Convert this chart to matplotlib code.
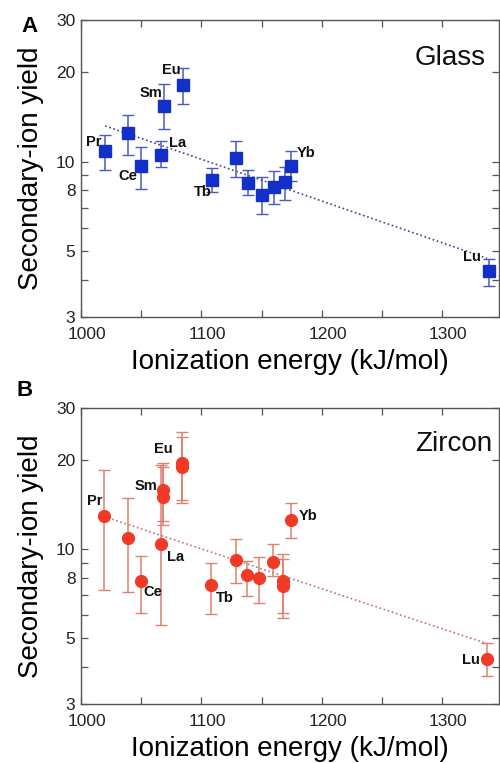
import matplotlib
matplotlib.use("Agg")
import matplotlib.pyplot as plt
import numpy as np
from matplotlib.ticker import FixedLocator, FixedFormatter
from matplotlib.transforms import ScaledTranslation

plt.rcParams['font.family'] = ['Liberation Sans', 'DejaVu Sans']

# ---------------- data ----------------
# Panel A: Glass
glass_ie = [1020, 1039, 1050, 1066, 1069, 1085, 1109, 1129, 1139, 1150, 1160, 1169, 1174, 1339]
glass_yield = [10.9, 12.5, 9.7, 10.5, 15.4, 18.1, 8.7, 10.3, 8.5, 7.75, 8.2, 8.55, 9.7, 4.3]
glass_err_hi = [12.3, 14.4, 11.2, 11.7, 18.3, 20.7, 9.5, 11.7, 9.4, 8.9, 9.3, 9.6, 10.9, 4.7]
glass_err_lo = [9.4, 10.5, 8.1, 9.6, 12.9, 15.6, 7.9, 8.9, 7.7, 6.65, 7.2, 7.45, 8.6, 3.82]
glass_labels = ["Pr", "", "Ce", "La", "Sm", "Eu", "Tb", "", "", "", "", "", "Yb", "Lu"]
glass_fit_ie = [1020, 1337]
glass_fit_yield = [13.2, 4.73]

# Panel B: Zircon
zircon_ie = [1019, 1039, 1050, 1066, 1068, 1068, 1084, 1084, 1108, 1129, 1138, 1148, 1159, 1168, 1168, 1174, 1337]
zircon_yield = [12.9, 10.95, 7.8, 10.4, 15.9, 15.0, 19.5, 18.95, 7.6, 9.2, 8.2, 8.0, 9.05, 7.8, 7.5, 12.6, 4.26]
zircon_err_hi = [18.5, 14.9, 9.5, 19.3, 19.5, 19.0, 24.8, 23.9, 9.0, 10.8, 9.1, 9.45, 10.4, 9.6, 9.3, 14.3, 4.81]
zircon_err_lo = [7.3, 7.15, 6.1, 5.55, 12.1, 12.5, 14.7, 14.3, 6.05, 7.7, 6.95, 6.6, 8.1, 6.1, 5.85, 10.9, 3.73]
zircon_labels = ["Pr", "", "Ce", "La", "Sm", "", "Eu", "", "Tb", "", "", "", "", "", "", "Yb", "Lu"]
zircon_fit_ie = [1019, 1337]
zircon_fit_yield = [12.9, 4.8]

x_ticks = [1000, 1100, 1200, 1300]
x_minor = [1050, 1150, 1250]
y_ticks = [3, 4, 5, 6, 7, 8, 9, 10, 20, 30]
y_ticklabels = ["3", "", "5", "", "", "8", "", "10", "20", "30"]

# ---------------- layout / style ----------------
W, H = 500, 763
fig = plt.figure(figsize=(W / 100, H / 100), dpi=100)

def px_rect(l, t, r, b):
    return [l / W, 1 - b / H, (r - l) / W, (b - t) / H]

axA = fig.add_axes(px_rect(81, 20, 499, 317))
axB = fig.add_axes(px_rect(81, 408, 499, 704))

offsA = {"Pr": (-11, 9), "Ce": (-13, -10), "La": (17, 12), "Sm": (-13, 13),
         "Eu": (-12, 15), "Tb": (-9, -12), "Yb": (15, 13), "Lu": (-17, 14)}
offsB = {"Pr": (-9, 15), "Eu": (-19, 14), "Sm": (-17, 4), "La": (15, -13),
         "Yb": (17, 4), "Ce": (12, -11), "Tb": (14, -13), "Lu": (-16, -1)}

def setup(ax):
    ax.set_yscale('log')
    ax.set_xlim(1000, 1347)
    ax.set_ylim(3, 30)
    ax.yaxis.set_major_locator(FixedLocator(y_ticks))
    ax.yaxis.set_major_formatter(FixedFormatter(y_ticklabels))
    ax.yaxis.set_minor_locator(FixedLocator([]))
    ax.xaxis.set_major_locator(FixedLocator(x_ticks))
    ax.xaxis.set_minor_locator(FixedLocator(x_minor))
    ax.tick_params(which='both', direction='in', top=True, right=True,
                   length=5, width=0.9, color='#555555', labelsize=12.5,
                   labelcolor='#222222')
    ax.tick_params(axis='x', pad=7)
    ax.tick_params(axis='y', pad=4)
    for s in ax.spines.values():
        s.set_color('#555555')
        s.set_linewidth(1.0)
    ax.set_xlabel("Ionization energy (kJ/mol)", fontsize=20, labelpad=5)
    ax.set_ylabel("Secondary-ion yield", fontsize=20, labelpad=9)
    shift = ScaledTranslation(6 / 100, 0, fig.dpi_scale_trans)
    for t in ax.xaxis.get_major_ticks():
        t.label1.set_transform(t.label1.get_transform() + shift)

def draw(ax, x, y, hi, lo, labels, fx, fy, marker, mcol, ecol, lcol, offs, title, tpos):
    setup(ax)
    x = np.array(x); y = np.array(y)
    yerr = np.vstack([y - np.array(lo), np.array(hi) - y])
    ax.plot(fx, fy, linestyle=(0, (1, 1.6)), color=lcol, lw=1.2, zorder=1)
    ax.errorbar(x, y, yerr=yerr, fmt='none', ecolor=ecol, elinewidth=1.1,
                capsize=4.5, capthick=1.0, zorder=2)
    ax.plot(x, y, linestyle='none', marker=marker, markersize=8.5,
            color=mcol, markeredgecolor=mcol, zorder=3)
    for xi, yi, lab in zip(x, y, labels):
        if lab:
            ax.annotate(lab, (xi, yi), xytext=offs[lab], textcoords='offset pixels',
                        ha='center', va='center', fontsize=10.5, fontweight='bold',
                        color='#111111', zorder=4)
    ax.text(tpos[0], tpos[1], title, transform=ax.transAxes, ha='right', va='center',
            fontsize=20, color='#111111')

draw(axA, glass_ie, glass_yield, glass_err_hi, glass_err_lo, glass_labels,
     glass_fit_ie, glass_fit_yield, 's', '#1230c8', '#4a5ac0', '#3a4a90', offsA,
     "Glass", (0.967, 0.872))
draw(axB, zircon_ie, zircon_yield, zircon_err_hi, zircon_err_lo, zircon_labels,
     zircon_fit_ie, zircon_fit_yield, 'o', '#f03a26', '#e0806e', '#d06a70', offsB,
     "Zircon", (0.983, 0.88))

fig.text(29 / W, 1 - 26 / H, "A", fontsize=16, fontweight='bold', ha='center', va='center')
fig.text(25 / W, 1 - 390 / H, "B", fontsize=16, fontweight='bold', ha='center', va='center')

fig.savefig("out.png", dpi=100)
